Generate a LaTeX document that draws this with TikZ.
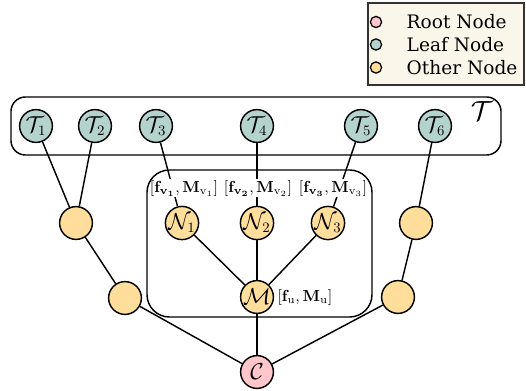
\documentclass[tikz,border=0pt]{standalone}
\usepackage[no-math]{fontspec}
\setmainfont{DejaVu Serif}
\usepackage{amsmath}
\usetikzlibrary{backgrounds}
\definecolor{rootc}{HTML}{FFC6CC}
\definecolor{leafc}{HTML}{B5D3CD}
\definecolor{otherc}{HTML}{FFDE9C}
\definecolor{legc}{HTML}{FBF6EA}
\begin{document}
\begin{tikzpicture}[x=0.625pt,y=-0.625pt,
  line width=0.9pt,
  nd/.style={circle,draw=black,line width=0.9pt,minimum size=20.5pt,inner sep=0pt,font=\fontsize{13.5}{15}\selectfont},
  leaf/.style={nd,fill=leafc},
  other/.style={nd,fill=otherc},
  rootn/.style={nd,fill=rootc},
  lab/.style={fill=white,inner sep=0.5pt,font=\fontsize{10.4}{12}\selectfont},
  legdot/.style={circle,draw=black,line width=0.8pt,minimum size=7pt,inner sep=0pt},
  legtxt/.style={anchor=west,inner sep=0pt,font=\fontsize{11.6}{14}\selectfont},
  box/.style={draw=black,line width=0.9pt},
  edge/.style={draw=black,line width=0.9pt}]
\useasboundingbox (0,0) rectangle (526,390);
% legend
\draw[draw=black!80,line width=1pt,fill=legc] (368,3) rectangle (524,85);
\node[legdot,fill=rootc] (lr) at (376,22) {};
\node[legtxt] (lrt) at (406,22) {Root Node};
\node[legdot,fill=leafc] (ll) at (376,44.5) {};
\node[legtxt] (llt) at (406,44.5) {Leaf Node};
\node[legdot,fill=otherc] (lo) at (376,67.5) {};
\node[legtxt] (lot) at (406,67.5) {Other Node};
% top box
\draw[box,rounded corners=9pt] (11,97) rectangle (501,155);
\node (Tcal) at (482,111) {\fontsize{19}{21}\selectfont$\mathcal{T}$};
% leaves
\node[leaf] (T1) at (36,126) {$\mathcal{T}_1$};
\node[leaf] (T2) at (95,126) {$\mathcal{T}_2$};
\node[leaf] (T3) at (156,126) {$\mathcal{T}_3$};
\node[leaf] (T4) at (257,126) {$\mathcal{T}_4$};
\node[leaf] (T5) at (361,126) {$\mathcal{T}_5$};
\node[leaf] (T6) at (435,126) {$\mathcal{T}_6$};
% others
\node[other] (N1) at (182,223) {$\mathcal{N}_1$};
\node[other] (N2) at (257,223) {$\mathcal{N}_2$};
\node[other] (N3) at (328,223) {$\mathcal{N}_3$};
\node[other] (M) at (257,297) {$\mathcal{M}$};
\node[other] (L1) at (76,223) {};
\node[other] (L2) at (125,298) {};
\node[other] (R1) at (416,223) {};
\node[other] (R2) at (398,297) {};
\node[rootn] (C) at (257,372) {$\mathcal{C}$};
% labels
\node[lab] (lab1) at (184,188) {$[\mathbf{f}_{\mathbf{v_1}},\mathbf{M}_{\mathrm{v}_1}]$};
\node[lab] (lab2) at (258,188) {$[\mathbf{f}_{\mathbf{v_2}},\mathbf{M}_{\mathrm{v}_2}]$};
\node[lab] (lab3) at (333,188) {$[\mathbf{f}_{\mathbf{v_3}},\mathbf{M}_{\mathrm{v}_3}]$};
\node[lab,anchor=west] (labu) at (276,297) {$[\mathbf{f}_{\mathrm{u}},\mathbf{M}_{\mathrm{u}}]$};
% inner box
\draw[box,rounded corners=14pt] (147,170) rectangle (372,317);
% edges
\begin{scope}[on background layer]
\draw[edge] (T1) -- (L1);
\draw[edge] (T2) -- (L1);
\draw[edge] (L1) -- (L2);
\draw[edge] (L2) -- (C);
\draw[edge] (T6) -- (R1);
\draw[edge] (R1) -- (R2);
\draw[edge] (R2) -- (C);
\draw[edge] (M) -- (C);
\draw[edge] (N1) -- (M);
\draw[edge] (N2) -- (M);
\draw[edge] (N3) -- (M);
\draw[edge] (T3) -- (N1);
\draw[edge] (T4) -- (N2);
\draw[edge] (T5) -- (N3);
\end{scope}
\end{tikzpicture}
\end{document}
